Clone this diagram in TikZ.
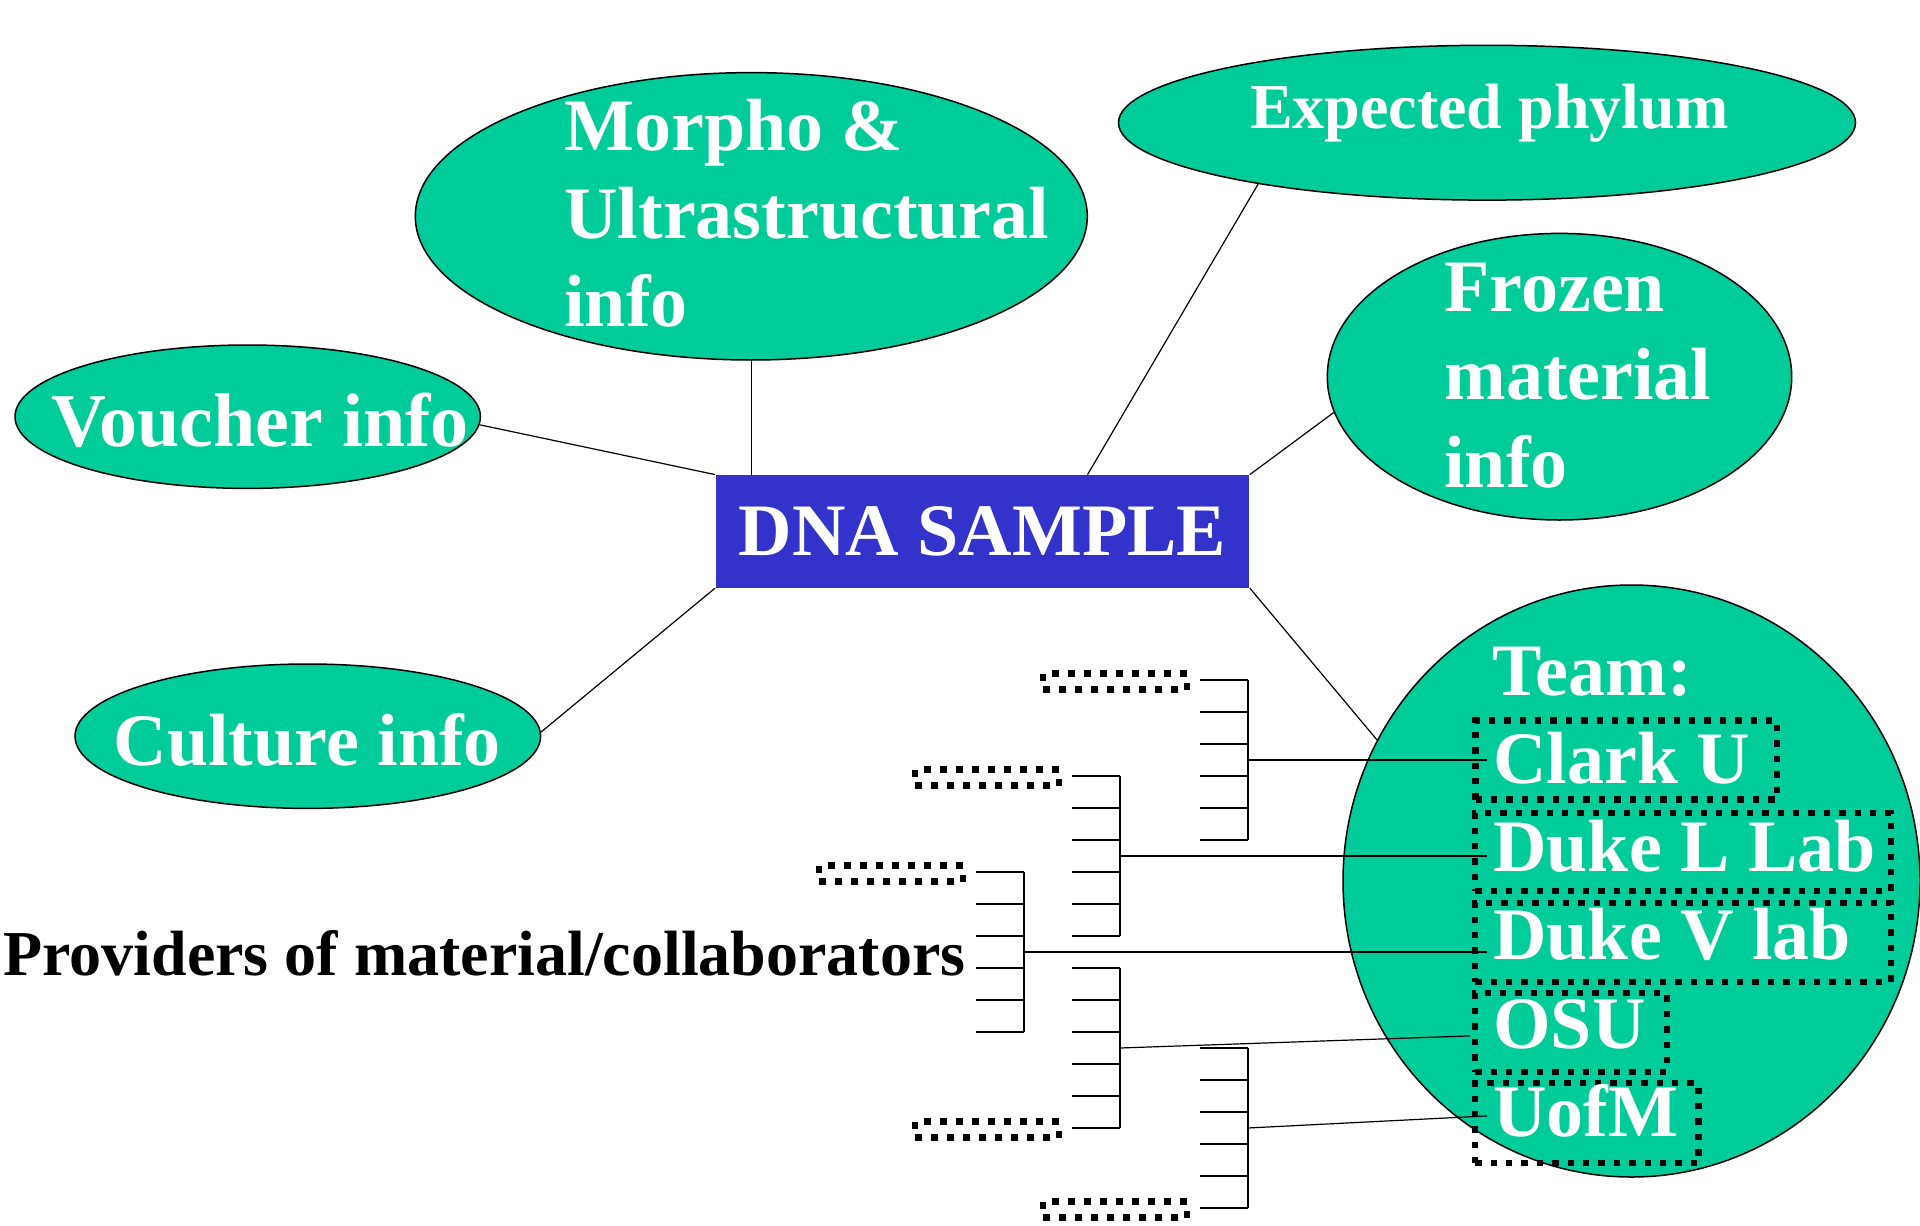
\documentclass[tikz,border=0pt]{standalone}
\usepackage{fontspec}
\setmainfont{Liberation Serif}
\usetikzlibrary{shapes.geometric,calc}
\definecolor{blobgreen}{HTML}{00CC99}
\definecolor{sampleblue}{HTML}{3333CC}
\begin{document}
\begin{tikzpicture}[x=0.5pt,y=-0.5pt,
  blob/.style={ellipse, draw=black, line width=0.75pt, fill=blobgreen, inner sep=0pt},
  bigtxt/.style={text=white, font=\fontsize{37}{44}\selectfont\bfseries, inner sep=0pt, anchor=base west},
  midtxt/.style={text=white, font=\fontsize{32}{38}\selectfont\bfseries, inner sep=0pt, anchor=base west},
  link/.style={draw=black, line width=0.6pt},
  combline/.style={draw=black, line width=1pt},
  thinline/.style={draw=black, line width=0.6pt},
  member/.style={rectangle, draw=black, line width=3.2pt, dash pattern=on 3.2pt off 4.5pt, inner sep=0pt, anchor=north west},
  slot/.style={rectangle, draw=black, line width=3.2pt, dash pattern=on 3.5pt off 4.5pt, inner sep=0pt, minimum width=72pt, minimum height=8pt}
]
\useasboundingbox (0,0) rectangle (1920,1225);

% central sample box
\node[fill=sampleblue, text=white, font=\fontsize{37}{44}\selectfont\bfseries,
      minimum width=266.95pt, minimum height=56.35pt, inner sep=0pt] (dna) at (982.45,531.35) {DNA SAMPLE};

% information ellipses
\node[blob, minimum width=336pt, minimum height=143.7pt] (morpho) at (751.3,216.3) {};
\node[blob, minimum width=368.5pt, minimum height=77.4pt] (expected) at (1487,122.7) {};
\node[blob, minimum width=232.2pt, minimum height=143.3pt] (frozen) at (1559.5,376.7) {};
\node[blob, minimum width=232.7pt, minimum height=71.7pt] (voucher) at (247.7,416.7) {};
\node[blob, minimum width=232.8pt, minimum height=72.2pt] (culture) at (307.8,736.2) {};
\node[blob, minimum width=288.5pt, minimum height=296pt] (team) at (1631.5,881) {};

% ellipse texts
\node[bigtxt] (morpho1) at (564,150.7) {Morpho \&};
\node[bigtxt] (morpho2) at (564,238.7) {Ultrastructural};
\node[bigtxt] (morpho3) at (564,326.7) {info};
\node[midtxt] (expectedtxt) at (1249.7,128.3) {Expected phylum};
\node[bigtxt] (frozen1) at (1444,311) {Frozen};
\node[bigtxt] (frozen2) at (1444,399) {material};
\node[bigtxt] (frozen3) at (1444,487) {info};
\node[bigtxt, font=\fontsize{38}{44}\selectfont\bfseries] (vouchertxt) at (51,446.7) {Voucher info};
\node[bigtxt] (culturetxt) at (113.3,765) {Culture info};
\node[bigtxt] (teamtxt) at (1492.5,695) {Team:};

% team members
\node[member, minimum width=150.7pt, minimum height=39.5pt] (clark) at (1472.3,717.3) {};
\node[member, minimum width=207.85pt, minimum height=39pt] (dukel) at (1472,809.7) {};
\node[member, minimum width=207.85pt, minimum height=39.5pt] (dukev) at (1472,899.7) {};
\node[member, minimum width=95.85pt, minimum height=39.5pt] (osu) at (1472,989.7) {};
\node[member, minimum width=111.65pt, minimum height=40pt] (uofm) at (1472,1080) {};
\node[bigtxt] (clarktxt) at (1493,783.3) {Clark U};
\node[bigtxt] (dukeltxt) at (1493,871.7) {Duke L Lab};
\node[bigtxt] (dukevtxt) at (1493,959.3) {Duke V lab};
\node[bigtxt] (osutxt) at (1493,1048.3) {OSU};
\node[bigtxt] (uofmtxt) at (1493,1136) {UofM};

% providers label
\node[inner sep=0pt, anchor=base west, font=\fontsize{32}{38}\selectfont\bfseries] (providers) at (3,975) {Providers of material/collaborators};

% links from the sample box
\draw[link] (voucher.-2) -- (dna.north west);
\draw[link] (morpho.south) -- (morpho.south |- dna.north);
\draw[link] (expected.195.5) -- ($(dna.north west)!0.6966!(dna.north east)$);
\draw[link] (frozen.189.2) -- (dna.north east);
\draw[link] (culture.1.9) -- (dna.south west);
\draw[link] (team.151.8) -- (dna.south east);

% provider combs: six teeth each, spine on the right
\foreach \cx/\cy/\nm in {1200/680/combA, 1072/776/combB, 976/872/combC, 1072/968/combD, 1200/1048/combE}{
  \foreach \k in {0,...,5}{
    \draw[combline] (\cx,\cy+32*\k) -- ++(47.7,0);
  }
  \draw[combline] (\cx+47.7,\cy) -- (\cx+47.7,\cy+160);
  \coordinate (\nm) at (\cx+47.7,\cy+80);
}

% placeholder slots next to the outer teeth
\node[slot] (slotA) at (1115,681.5) {};
\node[slot] (slotB) at (987,777.5) {};
\node[slot] (slotC) at (891,873.5) {};
\node[slot] (slotD) at (987,1129.5) {};
\node[slot] (slotE) at (1115,1209.5) {};

% combs to team members
\draw[combline] (combA) -- ($(clark.west |- combA)+(15,0)$);
\draw[combline] (combB) -- ($(dukel.west |- combB)+(15,0)$);
\draw[combline] (combC) -- ($(dukev.west |- combC)+(15,0)$);
\draw[thinline] (combD) -- ($(osu.west)+(-2,3.5)$);
\draw[thinline] (combE) -- ($(uofm.west)+(15,-7.3)$);
\end{tikzpicture}
\end{document}
